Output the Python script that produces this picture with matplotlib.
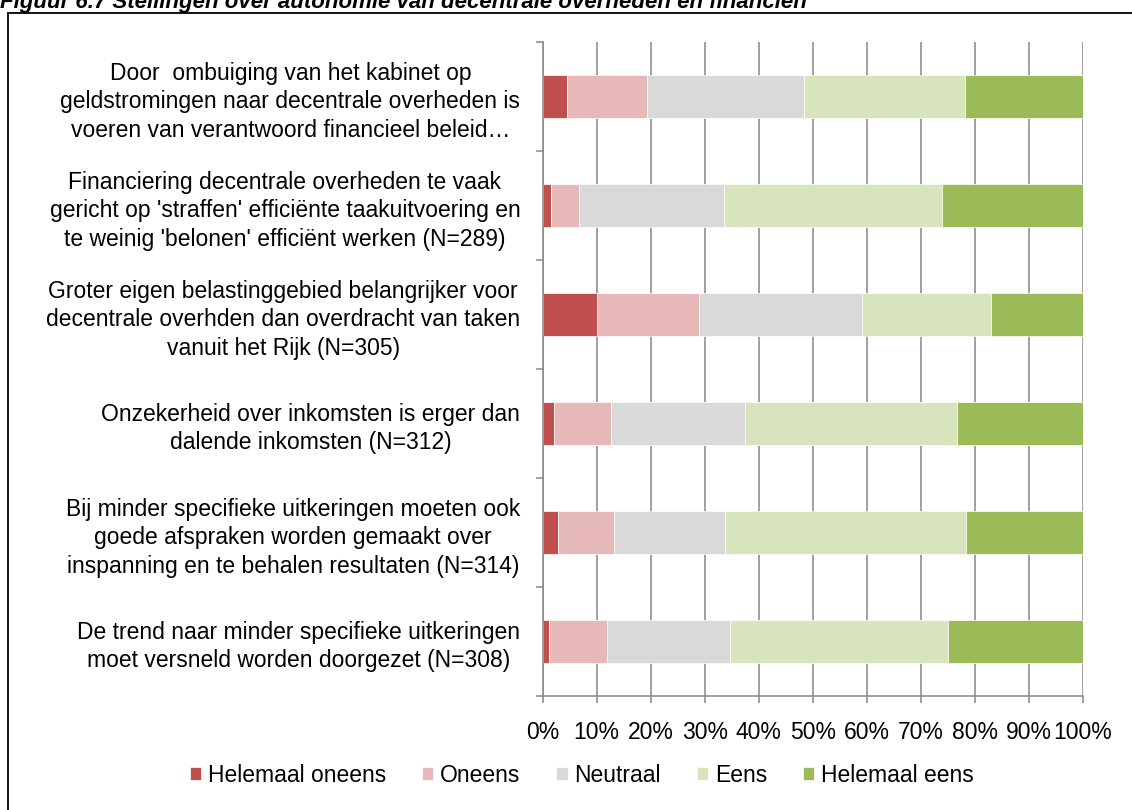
import matplotlib.pyplot as plt
import numpy as np
from matplotlib.patches import Rectangle

plt.rcParams['font.family'] = ['Liberation Sans', 'DejaVu Sans']

statements = [
    "Door  ombuiging van het kabinet op\ngeldstromingen naar decentrale overheden is\nvoeren van verantwoord financieel beleid…",
    "Financiering decentrale overheden te vaak\ngericht op 'straffen' efficiënte taakuitvoering en\nte weinig 'belonen' efficiënt werken (N=289)",
    "Groter eigen belastinggebied belangrijker voor\ndecentrale overhden dan overdracht van taken\nvanuit het Rijk (N=305)",
    "Onzekerheid over inkomsten is erger dan\ndalende inkomsten (N=312)",
    "Bij minder specifieke uitkeringen moeten ook\ngoede afspraken worden gemaakt over\ninspanning en te behalen resultaten (N=314)",
    "De trend naar minder specifieke uitkeringen\nmoet versneld worden doorgezet (N=308)",
]

series_names = ['Helemaal oneens', 'Oneens', 'Neutraal', 'Eens', 'Helemaal eens']
helemaal_oneens = [4.5, 1.6, 10.1, 2.2, 2.8, 1.2]
oneens = [14.9, 5.2, 18.8, 10.5, 10.5, 10.8]
neutraal = [28.9, 26.7, 30.2, 24.7, 20.5, 22.6]
eens = [29.9, 40.5, 23.9, 39.3, 44.6, 40.5]
helemaal_eens = [21.8, 26.0, 17.0, 23.3, 21.6, 24.9]
colors = ['#C0504D', '#E6B9B8', '#D9D9D9', '#D7E4BD', '#9BBB59']

fig = plt.figure(figsize=(11.32, 8.1), dpi=100)
ax = fig.add_axes([0.4793, 0.1407, 0.4774, 0.8074])

y = np.arange(len(statements))
data = np.array([helemaal_oneens, oneens, neutraal, eens, helemaal_eens])
data = data / data.sum(axis=0)
left = np.zeros(len(statements))
for vals, name, col in zip(data, series_names, colors):
    ax.barh(y, vals, 0.4, left=left, color=col, label=name,
            edgecolor='white', linewidth=0.5)
    left += vals

ax.set_ylim(5.5, -0.5)
ax.set_xlim(0, 1)
ax.set_axisbelow(True)
ax.grid(axis='x', color='#868686', linewidth=1.1)
for s in ['top', 'right']:
    ax.spines[s].set_visible(False)
for s in ['left', 'bottom']:
    ax.spines[s].set_color('#868686')
    ax.spines[s].set_linewidth(1.1)

fs = 16.5
ax.set_xticks(np.arange(0, 1.01, 0.1))
ax.set_xticklabels([f'{int(v)}%' for v in range(0, 101, 10)], fontsize=fs)
ax.tick_params(axis='x', direction='out', length=5, width=1.1, color='#868686', pad=13)

ax.set_yticks(y)
ax.set_yticklabels(statements, fontsize=fs, linespacing=1.3)
for t in ax.get_yticklabels():
    t.set_multialignment('center')
ax.tick_params(axis='y', which='major', length=0, pad=16)
ax.set_yticks(np.arange(-0.5, 6, 1), minor=True)
ax.tick_params(axis='y', which='minor', direction='out', length=5, width=1.1, color='#868686')

ax.legend(loc='center', bbox_to_anchor=(0.514, 0.043), bbox_transform=fig.transFigure,
          ncol=5, frameon=False, fontsize=fs, handlelength=0.5, handleheight=0.5,
          handletextpad=0.3, columnspacing=1.55)

fig.add_artist(Rectangle((8 / 1132, -0.01), 1.0, 1 - 13 / 810 + 0.01,
                         transform=fig.transFigure, fill=False,
                         edgecolor='black', linewidth=1.3))
fig.text(0.0, 1 - 8 / 810,
         'Figuur 6.7 Stellingen over autonomie van decentrale overheden en financiën',
         fontsize=16, fontweight='bold', fontstyle='italic', va='baseline', ha='left')

plt.savefig('out.png', dpi=100)
